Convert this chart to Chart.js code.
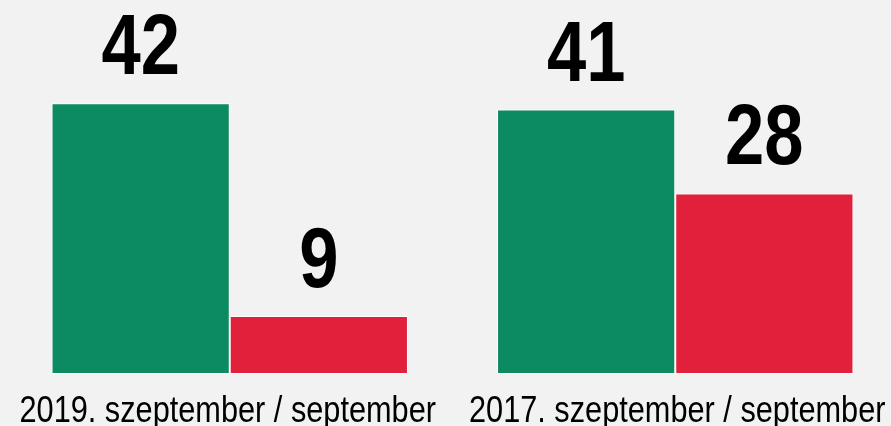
<!DOCTYPE html>
<html>
<head>
<meta charset="utf-8">
<script src="https://cdn.jsdelivr.net/npm/chart.js@4"></script>
<style>
  html, body { margin: 0; padding: 0; background: #f2f2f2; overflow: hidden; }
  #wrap { width: 898px; height: 426px; }
</style>
</head>
<body>
<div id="wrap"><canvas id="chart"></canvas></div>
<script>
const categories = ['2019. szeptember / september', '2017. szeptember / september'];
const greenValues = [42, 41];
const redValues = [9, 28];

// Keskeny betűt utánzunk vízszintes összenyomással
function narrowText(ctx, text, x, y, font, squeeze) {
    ctx.save();
    ctx.font = font;
    ctx.textAlign = 'center';
    ctx.textBaseline = 'alphabetic';
    ctx.translate(x, y);
    ctx.scale(squeeze, 1);
    ctx.fillText(text, 0, 0);
    ctx.restore();
}

const valueLabels = {
    id: 'valueLabels',
    afterDatasetsDraw(chart) {
        const ctx = chart.ctx;
        ctx.fillStyle = '#000';
        chart.data.datasets.forEach((ds, i) => {
            chart.getDatasetMeta(i).data.forEach((bar, j) => {
                narrowText(ctx, String(ds.data[j]), bar.x, bar.y - 29,
                    'bold 85px "Liberation Sans", Arial, sans-serif', 0.83);
            });
        });
        // kategória feliratok
        const xs = chart.scales.x;
        chart.data.labels.forEach((lab, j) => {
            narrowText(ctx, lab, xs.getPixelForValue(j) + (j ? 2 : -2), 422,
                '37px "Liberation Sans", Arial, sans-serif', 0.83);
        });
    }
};

new Chart(document.getElementById('chart'), {
    type: 'bar',
    data: {
        labels: categories,
        datasets: [
            { data: greenValues, backgroundColor: '#0c8a62', borderColor: '#ffffff', borderWidth: 1, borderSkipped: false },
            { data: redValues, backgroundColor: '#e1203b', borderColor: '#ffffff', borderWidth: 1, borderSkipped: false }
        ]
    },
    options: {
        responsive: true,
        maintainAspectRatio: false,
        animation: false,
        layout: { padding: { left: 7, top: 0, right: 0, bottom: 44 } },
        datasets: { bar: { categoryPercentage: 0.8, barPercentage: 1.0 } },
        plugins: {
            legend: { display: false },
            tooltip: { enabled: false }
        },
        scales: {
            x: {
                grid: { display: false },
                border: { display: false },
                ticks: { display: false }
            },
            y: {
                display: false,
                min: 0,
                max: 58
            }
        }
    },
    plugins: [valueLabels]
});
</script>
</body>
</html>
